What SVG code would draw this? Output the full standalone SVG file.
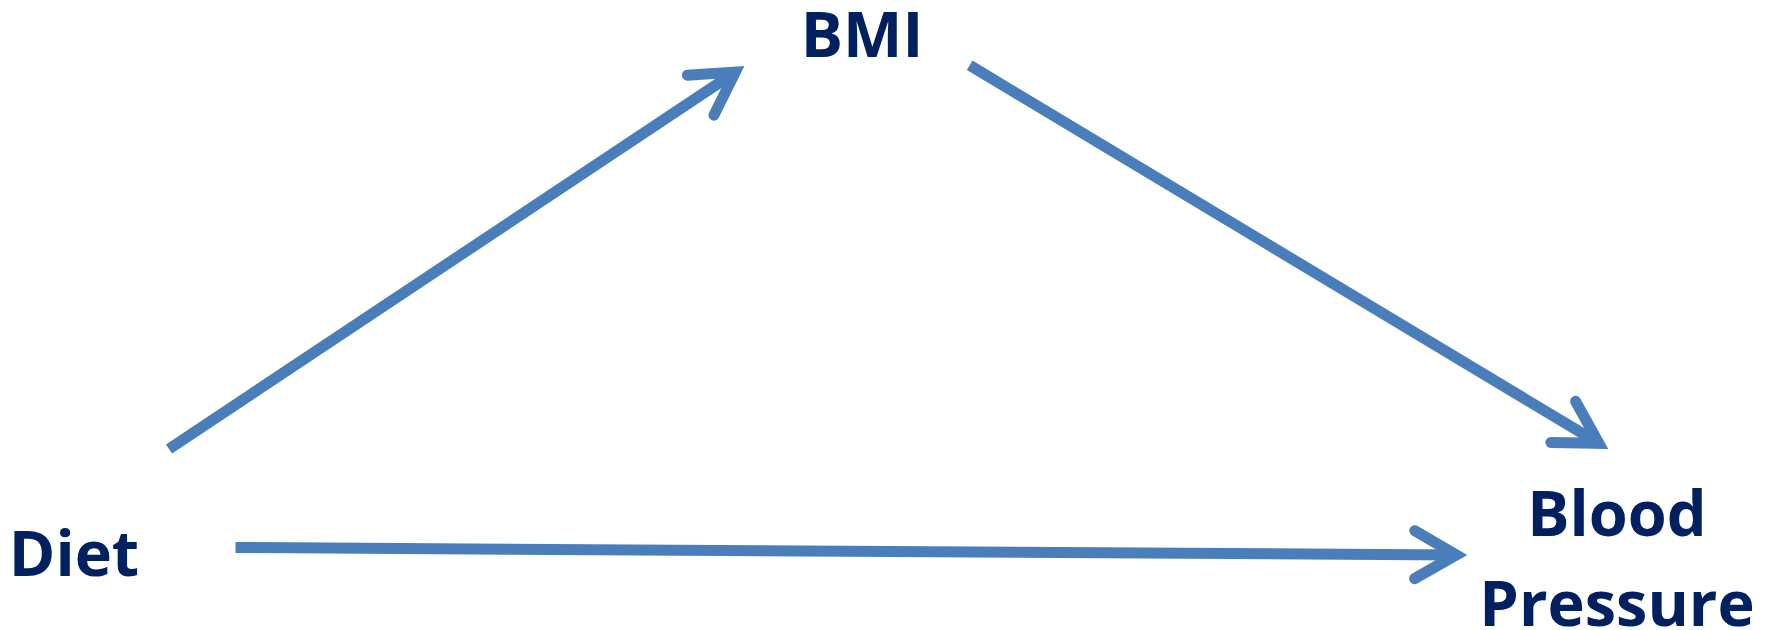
<svg xmlns="http://www.w3.org/2000/svg" width="1769" height="630" viewBox="0 0 1769 630">
  <style>
    .label { font-family: "Open Sans", "Liberation Sans", sans-serif; font-weight: 700; font-size: 63px; fill: #002060; }
    .edge { stroke: #4a7ebb; stroke-width: 11; fill: none; stroke-linecap: butt; }
  </style>
  <defs>
    <!-- open chevron head, vertex at the line end -->
    <marker id="head" markerUnits="userSpaceOnUse" orient="auto" refX="0" refY="0"
            markerWidth="140" markerHeight="140" viewBox="-70 -70 140 140" overflow="visible">
      <path d="M -41.6,-24 L 0,0 L -41.6,24" fill="none" stroke="#4a7ebb" stroke-width="11"
            stroke-linecap="round" stroke-linejoin="miter" stroke-miterlimit="4"/>
    </marker>
  </defs>

  <g id="connectors">
    <line id="diet-bmi" class="edge" x1="169" y1="449" x2="735.3" y2="72.1" marker-end="url(#head)"/>
    <line id="bmi-bp" class="edge" x1="969.7" y1="65.3" x2="1598.9" y2="443.3" marker-end="url(#head)"/>
    <line id="diet-bp" class="edge" x1="235.5" y1="547.5" x2="1456.3" y2="554.9" marker-end="url(#head)"/>
  </g>

  <g id="node-bmi">
    <text class="label" x="862" y="57" text-anchor="middle">BMI</text>
  </g>
  <g id="node-diet">
    <text class="label" x="74" y="576" text-anchor="middle">Diet</text>
  </g>
  <g id="node-bp">
    <text class="label" x="1617" y="536" text-anchor="middle">Blood</text>
    <text class="label" x="1617" y="626" text-anchor="middle">Pressure</text>
  </g>
</svg>
